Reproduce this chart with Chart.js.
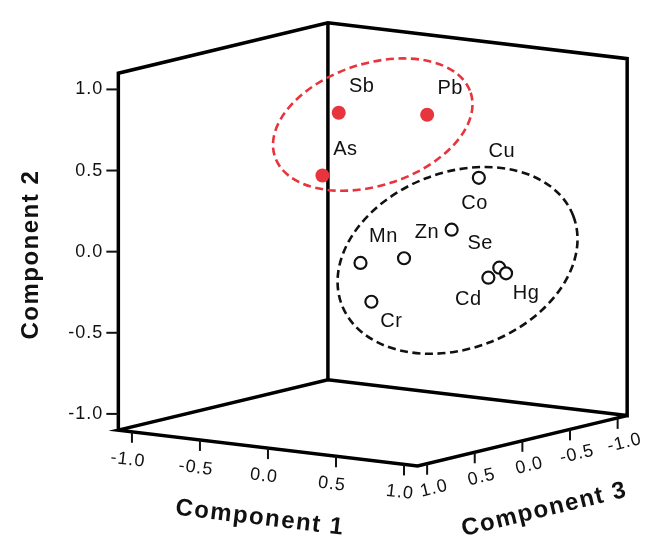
<!DOCTYPE html>
<html>
<head>
<meta charset="utf-8">
<script src="https://cdn.jsdelivr.net/npm/chart.js@4"></script>
<style>
  html, body { margin: 0; padding: 0; background: #fff; }
</style>
</head>
<body>
<canvas id="myChart" width="649" height="546"></canvas>
<script>
// loadings: component 1, 2, 3 for every element
const elements = ['Sb', 'Pb', 'As', 'Cu', 'Co', 'Zn', 'Mn', 'Cr', 'Se', 'Hg', 'Cd'];
const comp1 = [-0.04, 0.47, -0.23, 0.85, 0.65, 0.37, 0.12, 0.27, 0.93, 0.98, 0.85];
const comp2 = [0.85, 0.86, 0.43, 0.51, 0.17, -0.02, -0.06, -0.27, -0.05, -0.08, -0.12];
const comp3 = [0.30, 0.10, 0.20, 0.10, 0.10, 0.20, 0.30, 0.40, 0.00, 0.00, 0.00];
const cluster = [1, 1, 1, 0, 0, 0, 0, 0, 0, 0, 0]; // 1 = red group
const tickValues = [-1.0, -0.5, 0.0, 0.5, 1.0];
const axisMin = -1.1, axisMax = 1.1;
const axisTitles = ['Component 1', 'Component 2', 'Component 3'];

// which side of its point each label goes to
const labelSide = ['ur', 'ur', 'ur', 'ur', 'ur', 'ur', 'ur', 'lr', 'ul', 'lr', 'll'];
const sideOffset = { ur: [23, -26], lr: [20, 20], ul: [-19, -24], ll: [-20, 22] };

// oblique view of the cube, in page units (one unit of each component)
const ORIGIN = [374, 243.5];
const U = [139.55, 16.82];   // component 1
const V = [0, -167.27];      // component 2
const W = [-97.73, 23.64];   // component 3
function project(a, b, c) {
  return {
    x: ORIGIN[0] + a * U[0] + b * V[0] + c * W[0],
    y: ORIGIN[1] + a * U[1] + b * V[1] + c * W[1]
  };
}

// hand drawn rings around the two groups
const rings = [
  { cx: 374, cy: 120, rx: 103, ry: 61, rot: -18, color: '#e8343c' },
  { cx: 461, cy: 260, rx: 124, ry: 88, rot: -21, color: '#111111' }
];

const lo = axisMin, hi = axisMax;
const boxOutline = [
  project(lo, lo, hi), project(lo, hi, hi), project(lo, hi, lo), project(hi, hi, lo),
  project(hi, lo, lo), project(lo, lo, lo), project(lo, lo, hi), project(hi, lo, hi),
  project(hi, lo, lo)
];
const backEdge = [project(lo, hi, lo), project(lo, lo, lo)];

const redPts = [], blackPts = [], redNames = [], blackNames = [], redSide = [], blackSide = [];
elements.forEach((el, i) => {
  const p = project(comp1[i], comp2[i], comp3[i]);
  if (cluster[i]) { redPts.push(p); redNames.push(el); redSide.push(labelSide[i]); }
  else { blackPts.push(p); blackNames.push(el); blackSide.push(labelSide[i]); }
});

const FONT = '"Liberation Sans", Arial, sans-serif';
const INK = '#111111';

function drawText(ctx, text, x, y, angle, font, align, spacing) {
  ctx.save();
  ctx.translate(x, y);
  ctx.rotate(angle);
  ctx.font = font;
  ctx.letterSpacing = spacing || '0px';
  ctx.fillStyle = INK;
  ctx.textAlign = align || 'center';
  ctx.textBaseline = 'middle';
  ctx.fillText(text, 0, 0);
  ctx.restore();
}

const cubePlugin = {
  id: 'cube',
  afterDatasetsDraw(chart) {
    const ctx = chart.ctx;
    const xs = chart.scales.x, ys = chart.scales.y;
    const px = p => ({ x: xs.getPixelForValue(p.x), y: ys.getPixelForValue(p.y) });

    // rings
    rings.forEach(r => {
      const c = px({ x: r.cx, y: r.cy });
      ctx.save();
      ctx.strokeStyle = r.color;
      ctx.lineWidth = 2.6;
      ctx.setLineDash([8, 4.5]);
      ctx.beginPath();
      ctx.ellipse(c.x, c.y, r.rx, r.ry, r.rot * Math.PI / 180, 0, Math.PI * 2);
      ctx.stroke();
      ctx.restore();
    });

    // tick marks and labels
    ctx.save();
    ctx.strokeStyle = INK;
    ctx.lineWidth = 2;
    const a1 = Math.atan2(U[1], U[0]);
    const a3 = Math.atan2(-W[1], -W[0]);
    const tickFont = '18px ' + FONT;
    tickValues.forEach(t => {
      const lab = t.toFixed(1);
      // component 2 on the left edge
      let p = px(project(lo, t, hi));
      ctx.beginPath(); ctx.moveTo(p.x - 12, p.y); ctx.lineTo(p.x, p.y); ctx.stroke();
      drawText(ctx, lab, p.x - 15, p.y, 0, tickFont, 'right', '1px');
      // component 1 on the front left floor edge
      p = px(project(t, lo, hi));
      ctx.beginPath(); ctx.moveTo(p.x, p.y); ctx.lineTo(p.x, p.y + 11); ctx.stroke();
      drawText(ctx, lab, p.x - 4, p.y + 28, a1, tickFont, 'center', '1px');
      // component 3 on the front right floor edge
      p = px(project(hi, lo, t));
      ctx.beginPath(); ctx.moveTo(p.x, p.y); ctx.lineTo(p.x, p.y + 11); ctx.stroke();
      drawText(ctx, lab, p.x + 7, p.y + 25, a3, tickFont, 'center', '1px');
    });
    ctx.restore();

    // axis titles
    const titleFont = 'bold 24px ' + FONT;
    let m = px(project(0, lo, hi));
    drawText(ctx, axisTitles[0], m.x - 8, m.y + 70, a1, titleFont, 'center', '1.5px');
    m = px(project(lo, 0, hi));
    drawText(ctx, axisTitles[1], m.x - 87, m.y + 3, -Math.PI / 2, titleFont, 'center', '1.5px');
    m = px(project(hi, lo, 0));
    drawText(ctx, axisTitles[2], m.x + 22, m.y + 69, a3, titleFont, 'center', '1.5px');

    // point labels
    const labelFont = '20px ' + FONT;
    [[0, redNames, redSide], [1, blackNames, blackSide]].forEach(([di, names, sides]) => {
      chart.getDatasetMeta(di).data.forEach((el, i) => {
        const o = sideOffset[sides[i]];
        drawText(ctx, names[i], el.x + o[0], el.y + o[1], 0, labelFont, 'center', '0.5px');
      });
    });
  }
};

const config = {
  type: 'scatter',
  data: {
    datasets: [
      { label: 'group 1', data: redPts, pointRadius: 7, pointHoverRadius: 7,
        backgroundColor: '#e8343c', borderWidth: 0 },
      { label: 'group 2', data: blackPts, pointRadius: 6, pointHoverRadius: 6,
        backgroundColor: '#ffffff', borderColor: INK, borderWidth: 2.2 },
      { label: 'box', data: boxOutline, showLine: true, pointRadius: 0, fill: false,
        borderColor: '#000', borderWidth: 3.5, borderJoinStyle: 'miter', tension: 0 },
      { label: 'back edge', data: backEdge, showLine: true, pointRadius: 0, fill: false,
        borderColor: '#000', borderWidth: 3.5, tension: 0 }
    ]
  },
  options: {
    responsive: false,
    animation: false,
    events: [],
    layout: { padding: 0 },
    scales: {
      x: { type: 'linear', min: 0, max: 649, display: false },
      y: { type: 'linear', min: 0, max: 546, reverse: true, display: false }
    },
    plugins: {
      legend: { display: false },
      tooltip: { enabled: false }
    }
  },
  plugins: [cubePlugin]
};

let myChart = new Chart(document.getElementById('myChart'), config);
</script>
</body>
</html>
